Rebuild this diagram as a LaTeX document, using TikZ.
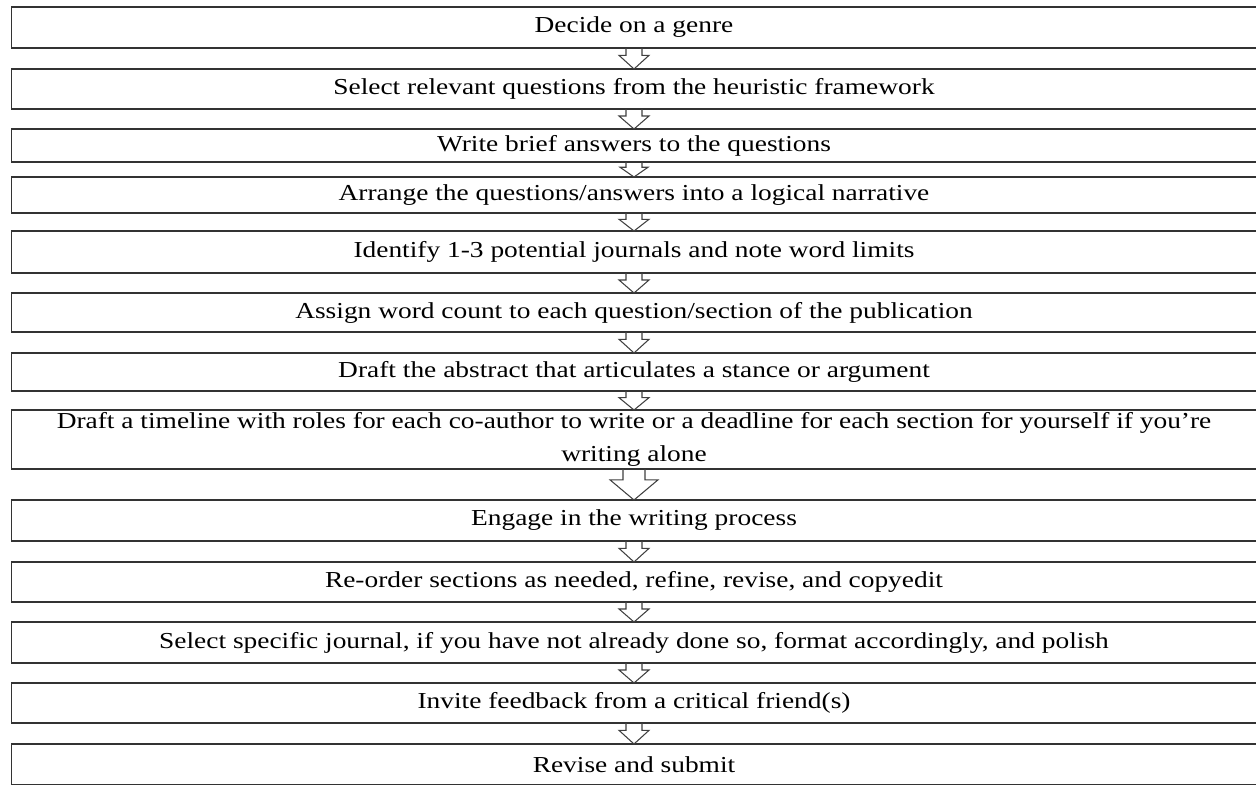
\documentclass[tikz,border=0pt]{standalone}
\usepackage{fontspec}
\setmainfont{Liberation Serif}[FakeStretch=1.2]
\usetikzlibrary{calc}
\tikzset{
  stepbox/.style={draw=black!80,line width=0.7pt,minimum width=24.92cm,inner sep=0pt,outer sep=0pt,
    align=center,font=\fontsize{13}{18.5}\selectfont},
  flowarrow/.style={draw=black!75,line width=0.6pt,line join=miter}
}
\begin{document}
\begin{tikzpicture}[x=0.02cm,y=-0.02cm]
  \useasboundingbox[fill=white] (0,0) rectangle (1256,784);
  %% steps
  \foreach \n/\t/\b/\txt in {1/7/48/{Decide on a genre},
      2/69/109/{Select relevant questions from the heuristic framework},
      3/129/162/{Write brief answers to the questions},
      4/177/213/{Arrange the questions/answers into a logical narrative},
      5/231/273/{Identify 1-3 potential journals and note word limits},
      6/293/332/{Assign word count to each question/section of the publication},
      7/353/391/{Draft the abstract that articulates a stance or argument},
      8/410/469/{Draft a timeline with roles for each co-author to write or a deadline for each section for yourself if you’re\\writing alone},
      9/500/541/{Engage in the writing process},
      10/562/602/{Re-order sections as needed, refine, revise, and copyedit},
      11/622/663/{Select specific journal, if you have not already done so, format accordingly, and polish},
      12/683/723/{Invite feedback from a critical friend(s)},
      13/744/785/{Revise and submit}}
    \node[stepbox,minimum height={(\b-\t)*0.02cm}] (s\n) at (634,{(\t+\b)/2}) {\txt};
  %% block arrows between the steps
  \foreach \a/\b/\s/\h in {1/2/8/15,2/3/8/15,3/4/8/14,4/5/8/15,5/6/8/15,6/7/8/15,7/8/8/15,
      8/9/11/24,9/10/8/15,10/11/8/15,11/12/8/15,12/13/8/15} {
    \path (s\a.south) coordinate (p) ($(s\a.south)!.35!(s\b.north)$) coordinate (q);
    \draw[flowarrow] ($(p)+(-\s,0)$) -- ($(q)+(-\s,0)$) -- ($(q)+(-\h,0)$) -- (s\b.north)
      -- ($(q)+(\h,0)$) -- ($(q)+(\s,0)$) -- ($(p)+(\s,0)$);
  }
\end{tikzpicture}
\end{document}
